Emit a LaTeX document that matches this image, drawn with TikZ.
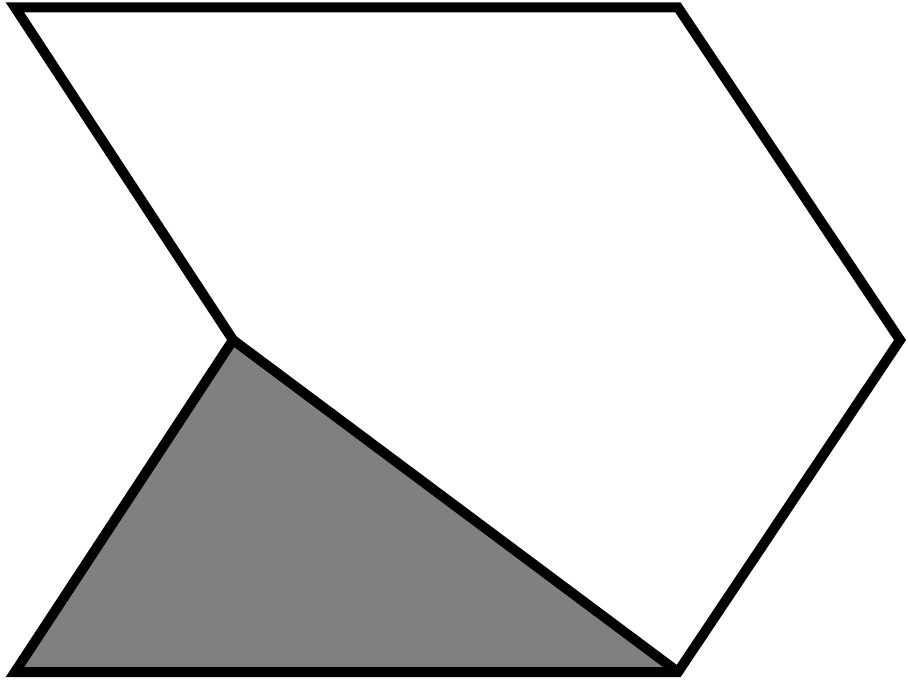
\documentclass[tikz,border=0pt]{standalone}
\begin{document}
\begin{tikzpicture}[x=0.02cm,y=-0.02cm,line width=0.2cm]
      \useasboundingbox (0,0) rectangle (908,679);
      \coordinate (tl) at (15,7.5);
      \coordinate (tr) at (678,7.5);
      \coordinate (r) at (900,340);
      \coordinate (br) at (678,672);
      \coordinate (bl) at (15,672);
      \coordinate (m) at (233,340);
      \fill[gray] (m) -- (bl) -- (br) -- cycle;
      \begin{scope}[-]
        \draw (tl) -- (tr) -- (r) -- (br) -- (bl) -- (m) -- cycle;
        \draw (m) to (br);
      \end{scope}
    \end{tikzpicture}
\end{document}
